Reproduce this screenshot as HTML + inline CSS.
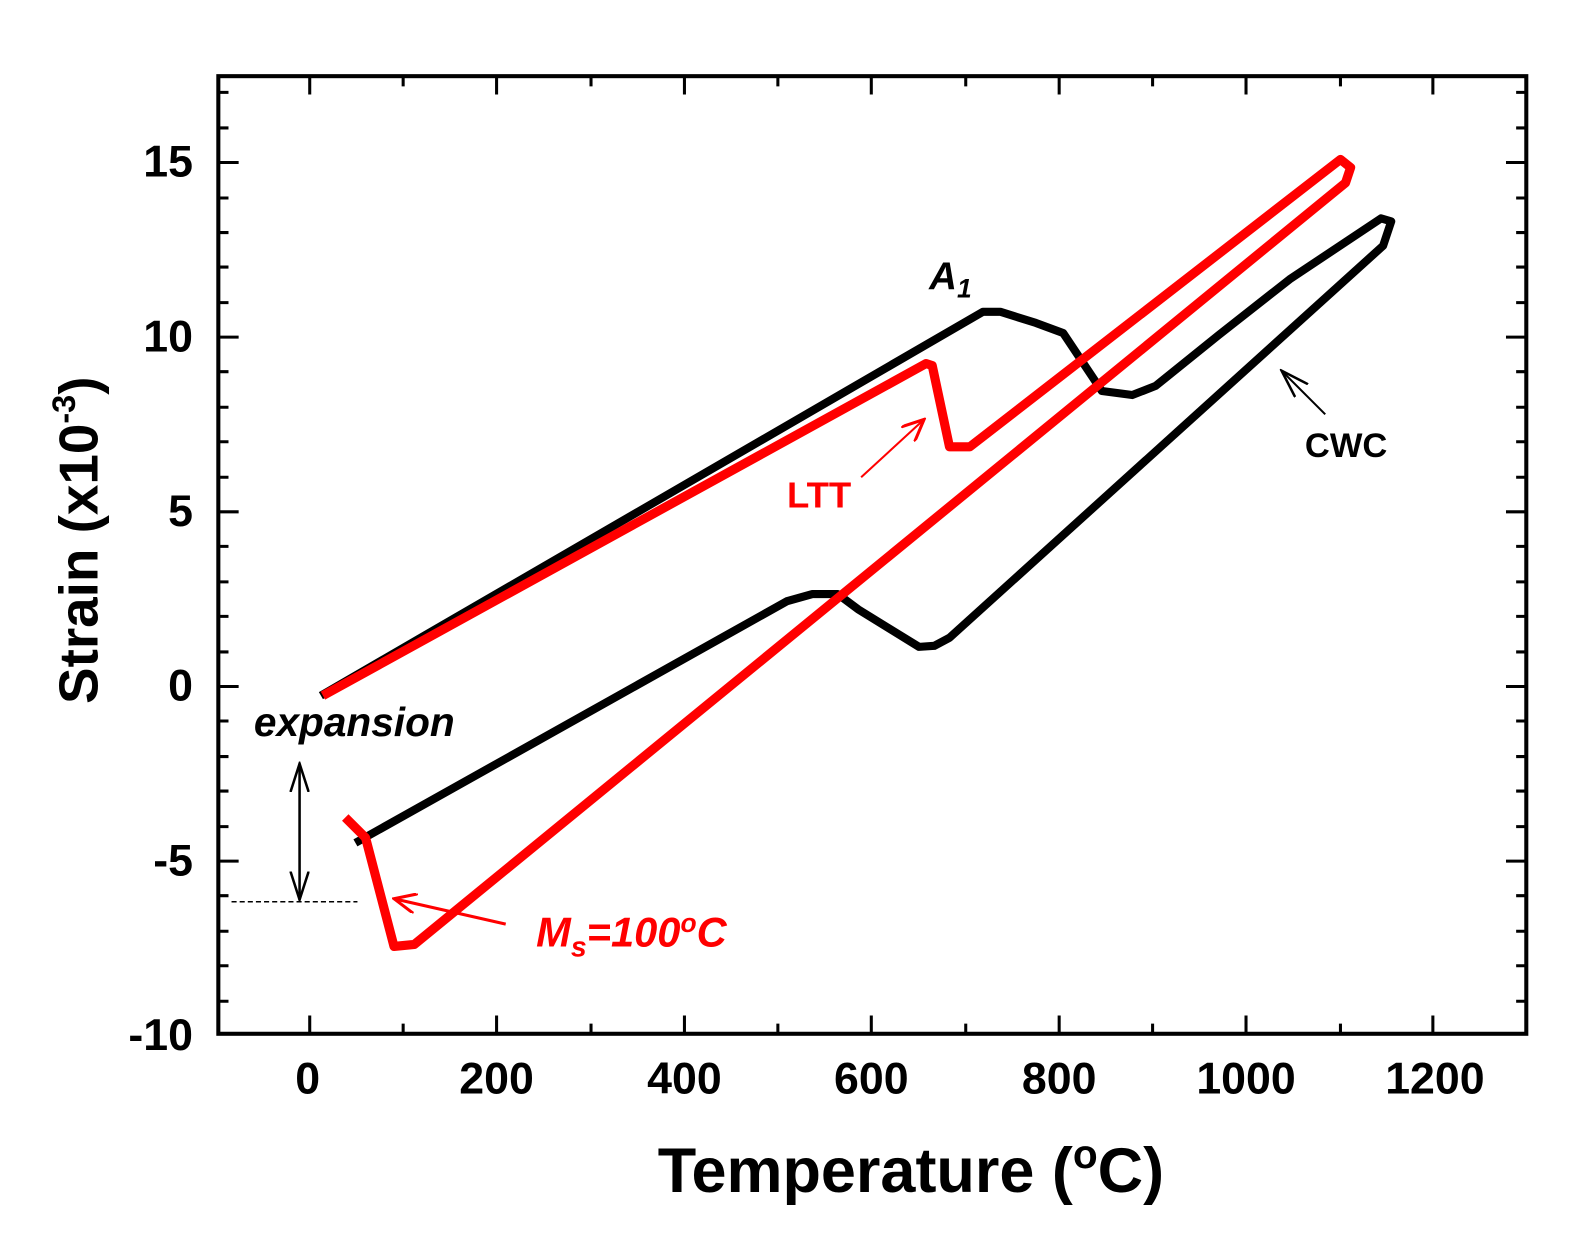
<!DOCTYPE html>
<html><head><style>body{margin:0;background:#fff}svg{display:block}</style></head><body>
<svg width="1592" height="1236" xmlns="http://www.w3.org/2000/svg" font-family="Liberation Sans, Arial, sans-serif">
<defs>
<marker id="ar" markerWidth="24" markerHeight="20" refX="22" refY="10" orient="auto" markerUnits="userSpaceOnUse"><path d="M0,0 L22,10 L0,20" fill="none" stroke="red" stroke-width="3"/></marker>
<marker id="ab2" markerWidth="30" markerHeight="20" refX="28" refY="10" orient="auto-start-reverse" markerUnits="userSpaceOnUse"><path d="M0,1 L28,10 L0,19" fill="none" stroke="#000" stroke-width="2.5"/></marker>
</defs>
<g transform="scale(1.0155)">
<rect x="215" y="75" width="1288" height="943" fill="none" stroke="#000" stroke-width="4"/>
<g stroke="#000" stroke-width="3">
<path d="M305,1018v-18M397,1018v-10M489,1018v-18M582,1018v-10M674,1018v-18M766,1018v-10M858,1018v-18M951,1018v-10M1043,1018v-18M1135,1018v-10M1227,1018v-18M1320,1018v-10M1411,1018v-18M1503,1018v-10"/>
<path d="M305,75v18M397,75v10M489,75v18M582,75v10M674,75v18M766,75v10M858,75v18M951,75v10M1043,75v18M1135,75v10M1227,75v18M1320,75v10M1411,75v18"/>
<path d="M215,160h20M215,332h20M215,504h20M215,676h20M215,848h20M1503,160h-20M1503,332h-20M1503,504h-20M1503,676h-20M1503,848h-20"/>
<path d="M215,91h10M215,126h10M215,195h10M215,229h10M215,263h10M215,298h10M215,366h10M215,401h10M215,435h10M215,470h10M215,538h10M215,573h10M215,607h10M215,642h10M215,710h10M215,745h10M215,779h10M215,814h10M215,882h10M215,917h10M215,951h10M215,986h10"/>
<path d="M1503,91h-10M1503,126h-10M1503,195h-10M1503,229h-10M1503,263h-10M1503,298h-10M1503,366h-10M1503,401h-10M1503,435h-10M1503,470h-10M1503,538h-10M1503,573h-10M1503,607h-10M1503,642h-10M1503,710h-10M1503,745h-10M1503,779h-10M1503,814h-10M1503,882h-10M1503,917h-10M1503,951h-10M1503,986h-10"/>
</g>
<g font-size="44" font-weight="bold" text-anchor="end">
<text x="190" y="174">15</text><text x="190" y="346">10</text><text x="190" y="518">5</text><text x="190" y="690">0</text><text x="190" y="862">-5</text><text x="190" y="1034">-10</text>
</g>
<g font-size="44" font-weight="bold" text-anchor="middle">
<text x="303" y="1077">0</text><text x="489" y="1077">200</text><text x="674" y="1077">400</text><text x="858" y="1077">600</text><text x="1043" y="1077">800</text><text x="1227" y="1077">1000</text><text x="1413" y="1077">1200</text>
</g>
<text x="897" y="1174" font-size="62" font-weight="bold" text-anchor="middle">Temperature (<tspan font-size="40" dy="-24">o</tspan><tspan dy="24">C)</tspan></text>
<text transform="translate(96,532) rotate(-90)" font-size="54" font-weight="bold" text-anchor="middle">Strain (x10<tspan font-size="32" dy="-22">-3</tspan><tspan dy="22">)</tspan></text>
<polyline fill="none" stroke="#000" stroke-width="8" stroke-linejoin="round" points="316,685 968,307 985,307 1020,318 1047,328 1085,385 1115,389 1138,380 1200,330 1270,275 1360,215 1370,218 1362,242 935,628 920,636 905,637 845,600 825,585 800,585 775,592 350,830"/>
<polyline fill="none" stroke="red" stroke-width="9" stroke-linejoin="round" points="318,685 912,358 918,360 935,440 955,440 1320,157 1330,165 1325,180 408,930 388,932 360,825 340,805"/>
<text x="915" y="285" font-size="38" font-weight="bold" font-style="italic">A<tspan font-size="26" dy="8">1</tspan></text>
<text x="775" y="500" font-size="36" font-weight="bold" fill="red">LTT</text>
<line x1="848" y1="470" x2="910" y2="413" stroke="red" stroke-width="2" marker-end="url(#ar)"/>
<text x="1285" y="450" font-size="34" font-weight="bold">CWC</text>
<line x1="1305" y1="408" x2="1262" y2="365" stroke="#000" stroke-width="2" marker-end="url(#ab2)"/>
<text x="250" y="725" font-size="40" font-weight="bold" font-style="italic">expansion</text>
<line x1="295" y1="752" x2="295" y2="886" stroke="#000" stroke-width="2.5" marker-start="url(#ab2)" marker-end="url(#ab2)"/>
<line x1="228" y1="888" x2="352" y2="888" stroke="#000" stroke-width="1.5" stroke-dasharray="5,3"/>
<line x1="498" y1="910" x2="388" y2="885" stroke="red" stroke-width="3" marker-end="url(#ar)"/>
<text x="528" y="932" font-size="41" font-weight="bold" font-style="italic" fill="red">M<tspan font-size="28" dy="10">s</tspan><tspan dy="-10">=100</tspan><tspan font-size="26" dy="-14">o</tspan><tspan dy="14">C</tspan></text>
</g>
</svg>
</body></html>
